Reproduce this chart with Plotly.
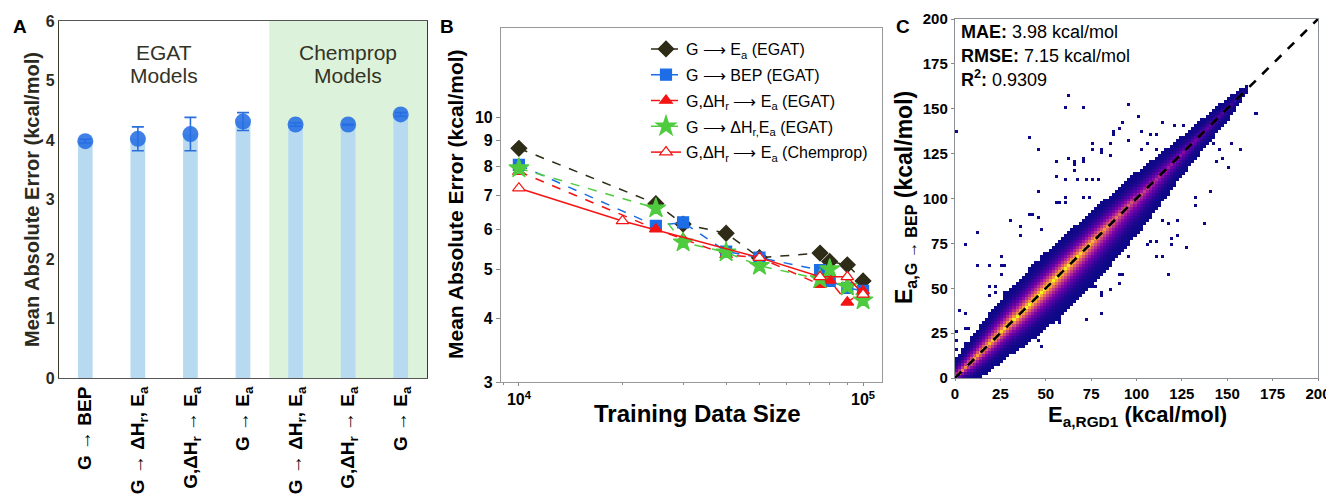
import numpy as np
import plotly.graph_objects as go

FONT = "Liberation Sans, Arial, Helvetica, sans-serif"
DARK = "#2b2a1f"
W, H, OFF = 1326, 492, 8  # page body margin of 8px around the figure


def px(x):
    return (x - OFF) / W


def py(y):
    return 1 - (y - OFF) / H


# ---------------- Panel A data ----------------
A_LABELS = [
    "G → BEP",
    "G → ΔH<sub>r</sub>, E<sub>a</sub>",
    "G,ΔH<sub>r</sub> → E<sub>a</sub>",
    "G → E<sub>a</sub>",
    "G → ΔH<sub>r</sub>, E<sub>a</sub>",
    "G,ΔH<sub>r</sub> → E<sub>a</sub>",
    "G → E<sub>a</sub>",
]
A_MAE = [3.98, 4.02, 4.10, 4.31, 4.26, 4.26, 4.43]
A_ERR = [0.03, 0.20, 0.28, 0.15, 0.03, 0.01, 0.03]
A_GROUPS = ["EGAT", "Chemprop"]

# ---------------- Panel B data ----------------
B_SIZES = [10000, 25000, 30000, 40000, 50000, 75000, 80000, 90000, 100000]
B_G_EA = [8.68, 6.75, 6.15, 5.90, 5.28, 5.39, 5.19, 5.11, 4.75]
B_G_BEP = [8.05, 6.10, 6.20, 5.43, 5.28, 4.99, 4.75, 4.60, 4.54]
B_GHR_EA = [7.81, 6.01, 5.75, 5.35, 5.28, 4.67, 4.76, 4.31, 4.54]
B_G_HREA = [7.93, 6.61, 5.66, 5.41, 5.09, 4.79, 5.01, 4.63, 4.35]
B_CHEM_SIZES = [10000, 20000, 50000, 75000, 90000, 100000]
B_CHEM = [7.24, 6.24, 5.28, 4.84, 4.84, 4.47]

# ---------------- Panel C data ----------------
C_BIN = 5.0 / 3.0
C_NBINS = 120
# band description along the diagonal
C_BAND_X = [0, 10, 20, 30, 40, 50, 60, 70, 80, 90, 100, 110, 120, 130, 140, 150, 158, 162]
C_BAND_UP = [10, 14, 17, 19, 20, 20, 19, 18, 17, 16, 15, 13, 11, 9, 8, 6, 4, 1]
C_BAND_LO = [3, 13, 16, 18, 21, 23, 24, 24, 24, 23, 21, 18, 14, 11, 9, 7, 4, 1]
C_BAND_PEAK = [1.9, 2.3, 2.6, 2.85, 3.0, 3.0, 2.95, 2.75, 2.35, 1.9, 1.55, 1.25, 0.95, 0.75, 0.55, 0.35, 0.2, 0.0]
# isolated cells outside the band
C_OUT_X = [1, 63, 60, 70, 95, 41, 45, 56, 63, 66, 66, 66, 70, 71, 76, 76, 80, 81, 85, 85, 87, 88, 90, 92,
           56, 61, 67, 72, 75, 79, 45, 55, 57, 61, 61, 70, 74, 41, 43, 45, 30, 35, 101, 114, 120, 126,
           132, 102, 108, 111, 96, 106, 110, 102, 153, 157, 146, 143, 148, 150, 144, 166, 141, 133, 133,
           123, 138, 114, 117, 119, 123, 119, 128, 111, 114, 118, 91, 91, 96, 107, 110, 105, 13, 6, 47,
           36, 26, 19, 13, 25, 28, 26, 19, 23, 19, 23, 28, 3, 6, 6, 7, 1, 1, 1, 5, 9, 12, 14, 15, 8, 1,
           1, 58, 58, 73, 80, 46, 47, 81, 85, 76, 76, 91, 92, 81, 78]
C_OUT_Y = [137, 158, 150, 151, 153, 134, 127, 121, 123, 121, 119, 116, 123, 120, 131, 128, 127, 125, 124,
           131, 135, 137, 139, 142, 112, 110, 111, 110, 111, 110, 104, 98, 98, 101, 97, 100, 100, 91, 91,
           89, 88, 84, 146, 142, 141, 141, 141, 137, 136, 136, 132, 130, 127, 127, 130, 127, 127, 130,
           123, 117, 120, 148, 104, 100, 95, 88, 86, 88, 85, 77, 79, 74, 72, 68, 68, 58, 58, 53, 68, 76,
           76, 74, 81, 74, 82, 79, 67, 62, 62, 63, 63, 58, 51, 51, 46, 48, 47, 37, 35, 28, 28, 21, 16,
           25, 19, 23, 23, 16, 9, 1, 11, 7, 30, 33, 33, 36, 21, 17, 48, 49, 53, 51, 52, 57, 45, 50]
C_STATS = [("MAE:", "3.98 kcal/mol"), ("RMSE:", "7.15 kcal/mol"), ("R<sup>2</sup>:", "0.9309")]

# ---------------- build panel C grid ----------------
centers = (np.arange(C_NBINS) + 0.5) * C_BIN
Z = np.full((C_NBINS, C_NBINS), np.nan)
for i, xc in enumerate(centers):
    if xc > C_BAND_X[-1]:
        continue
    up = np.interp(xc, C_BAND_X, C_BAND_UP)
    lo = np.interp(xc, C_BAND_X, C_BAND_LO)
    pk = np.interp(xc, C_BAND_X, C_BAND_PEAK)
    for j, yc in enumerate(centers):
        d = yc - xc
        frac = d / up if d >= 0 else -d / lo
        if frac <= 1.0:
            Z[j, i] = pk * (1.0 - frac) ** 3
for ox, oy in zip(C_OUT_X, C_OUT_Y):
    i = min(int(ox / C_BIN), C_NBINS - 1)
    j = min(int(oy / C_BIN), C_NBINS - 1)
    if np.isnan(Z[j, i]):
        Z[j, i] = 0.0

fig = go.Figure()

# ---------------- Panel A ----------------
xa = list(range(len(A_MAE)))
fig.add_trace(go.Bar(x=xa, y=A_MAE, width=0.28, marker=dict(color="#b8daf1", line=dict(width=0)),
                     showlegend=False, xaxis="x", yaxis="y"))
fig.add_trace(go.Scatter(x=xa, y=A_MAE, mode="markers",
                         marker=dict(size=16, color="rgba(37,110,228,0.88)", line=dict(width=0)),
                         error_y=dict(type="data", array=A_ERR, color="#2a6fdc", thickness=1.6, width=6),
                         showlegend=False, xaxis="x", yaxis="y"))

# ---------------- Panel B ----------------
def btrace(x, y, name, color, symbol, size, dash, fill=None):
    return go.Scatter(
        x=x, y=y, name=name, mode="lines+markers", xaxis="x2", yaxis="y2",
        line=dict(color=color, width=1.5, dash=dash),
        marker=dict(symbol=symbol, size=size, color=fill if fill else color,
                    line=dict(color=color, width=1.2)),
        legendgroup=name,
    )

fig.add_trace(btrace(B_SIZES, B_G_EA, "G ⟶ E<sub>a</sub> (EGAT)", "#2e2b16", "diamond", 12, "dash"))
fig.add_trace(btrace(B_SIZES, B_G_BEP, "G ⟶ BEP (EGAT)", "#1d6ee6", "square", 11, "dash"))
fig.add_trace(btrace(B_SIZES, B_GHR_EA, "G,ΔH<sub>r</sub> ⟶ E<sub>a</sub> (EGAT)", "#f41414", "triangle-up", 11, "dash"))
fig.add_trace(btrace(B_SIZES, B_G_HREA, "G ⟶ ΔH<sub>r,</sub>E<sub>a</sub> (EGAT)", "#4fcb3f", "star", 15, "dash"))
fig.add_trace(btrace(B_CHEM_SIZES, B_CHEM, "G,ΔH<sub>r</sub> ⟶ E<sub>a</sub> (Chemprop)", "#f41414", "triangle-up", 11, "solid", fill="white"))

# ---------------- Panel C ----------------
fig.add_trace(go.Heatmap(x=centers, y=centers, z=Z, colorscale="Plasma", zmin=0, zmax=3.0,
                         showscale=False, xaxis="x3", yaxis="y3", hoverinfo="skip"))
fig.add_trace(go.Scatter(x=[0, 200], y=[0, 200], mode="lines", line=dict(color="black", width=2.6, dash="dash"),
                         showlegend=False, xaxis="x3", yaxis="y3"))

tickfont = dict(family=FONT, size=16, color="black")
ctickfont = dict(family=FONT, size=15, color="black")
boldtick = dict(family=FONT, size=16, color=DARK)

fig.update_layout(
    width=W, height=H, margin=dict(l=0, r=0, t=0, b=0, autoexpand=False),
    paper_bgcolor="white", plot_bgcolor="white",
    font=dict(family=FONT, color="black"),
    xaxis=dict(domain=[px(59), px(427)], range=[-0.5, 6.5], tickmode="array", tickvals=xa,
               ticktext=["<b>" + t + "</b>" for t in A_LABELS], tickangle=-90,
               tickfont=dict(family=FONT, size=19, color="black"), showgrid=False, zeroline=False,
               showline=True, linecolor="#555", linewidth=1, mirror=True, ticks="", anchor="y",
               automargin=False),
    yaxis=dict(domain=[py(378), py(21)], range=[0, 6], tickvals=[0, 1, 2, 3, 4, 5, 6],
               ticktext=["<b>%d</b>" % v for v in range(7)], tickfont=boldtick,
               showgrid=False, zeroline=False, showline=True, linecolor="#3a3a2a", linewidth=1.2,
               mirror=True, ticks="", anchor="x", automargin=False),
    xaxis2=dict(domain=[px(501), px(882)], type="log", range=[3.948, 5.055], tickvals=[1e4, 1e5],
                ticktext=["<b>10<sup>4</sup></b>", "<b>10<sup>5</sup></b>"], tickfont=tickfont,
                ticks="outside", ticklen=3, tickcolor="#888",
                minor=dict(ticks="outside", ticklen=2, tickcolor="#888",
                           tickvals=[9e3, 2e4, 3e4, 4e4, 5e4, 6e4, 7e4, 8e4, 9e4]),
                showgrid=False, zeroline=False, showline=True, linecolor="#999", linewidth=1.2,
                mirror=True, anchor="y2", automargin=False),
    yaxis2=dict(domain=[py(382), py(28)], type="log", range=[np.log10(3), np.log10(15)],
                tickvals=[3, 4, 5, 6, 7, 8, 9, 10], ticktext=["<b>%d</b>" % v for v in [3, 4, 5, 6, 7, 8, 9, 10]],
                tickfont=tickfont, ticks="outside", ticklen=4, tickcolor="#888",
                showgrid=False, zeroline=False, showline=True, linecolor="#999", linewidth=1.2,
                mirror=True, anchor="x2", automargin=False),
    xaxis3=dict(domain=[px(955), px(1318)], range=[0, 200], tickvals=list(range(0, 201, 25)),
                ticktext=["<b>%d</b>" % v for v in range(0, 201, 25)], tickfont=ctickfont,
                ticks="outside", ticklen=2, tickcolor="#888",
                showgrid=False, zeroline=False, showline=True, linecolor="#8a9096", linewidth=1.4,
                mirror=True, anchor="y3", automargin=False),
    yaxis3=dict(domain=[py(378), py(19)], range=[0, 200], tickvals=list(range(0, 201, 25)),
                ticktext=["<b>%d</b>" % v for v in range(0, 201, 25)], tickfont=ctickfont,
                ticks="outside", ticklen=3, tickcolor="#888",
                showgrid=False, zeroline=False, showline=True, linecolor="#8a9096", linewidth=1.4,
                mirror=True, anchor="x3", automargin=False),
    legend=dict(x=px(646), y=py(32), xanchor="left", yanchor="top", bgcolor="rgba(0,0,0,0)",
                font=dict(family=FONT, size=16, color="black"), tracegroupgap=2,
                traceorder="grouped"),
    shapes=[dict(type="rect", xref="x", yref="y", x0=3.5, x1=6.5, y0=0, y1=6,
                 fillcolor="#dcf2da", line=dict(width=0), layer="below")],
)

ann = []


def add(x, y, text, size, color="black", angle=0, xanchor="center", xref="paper", yref="paper"):
    ann.append(dict(x=x, y=y, xref=xref, yref=yref, text=text, showarrow=False, textangle=angle,
                    xanchor=xanchor, yanchor="middle", font=dict(family=FONT, size=size, color=color)))


# panel letters
for letter, lx, ly in [("A", 20, 27), ("B", 447, 27), ("C", 903, 27)]:
    add(px(lx), py(ly), "<b>%s</b>" % letter, 19)
# group titles panel A
for gx, gname in [(1.5, A_GROUPS[0]), (5.0, A_GROUPS[1])]:
    add(gx, 5.47, gname, 21, "#333326", xref="x", yref="y")
    add(gx, 5.08, "Models", 21, "#333326", xref="x", yref="y")
# axis titles
add(px(32), py(200), "<b>Mean Absolute Error (kcal/mol)</b>", 20, DARK, angle=-90)
add(px(455), py(204), "<b>Mean Absolute Error (kcal/mol)</b>", 21, angle=-90)
add(px(697), py(413), "<b>Training Data Size</b>", 24)
add(px(905), py(198), "<b>E<sub>a,G → BEP</sub> (kcal/mol)</b>", 23, angle=-90)
add(px(1137), py(416), "<b>E<sub>a,RGD1</sub> (kcal/mol)</b>", 22)
# stats
for k, (lab, val) in enumerate(C_STATS):
    add(px(959), py(32 + 23.5 * k), "<b>%s</b> %s" % (lab, val), 18, xanchor="left")
fig.update_layout(annotations=ann)

fig.write_html("out.html")
